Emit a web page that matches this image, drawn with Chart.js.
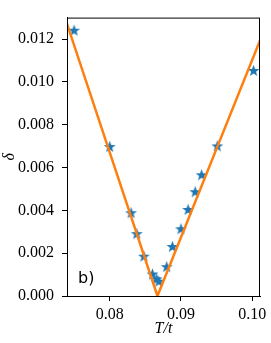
<!DOCTYPE html>
<html>
<head>
<meta charset="utf-8">
<script src="https://cdn.jsdelivr.net/npm/chart.js@4/dist/chart.umd.min.js"></script>
<style>
  html, body { margin: 0; padding: 0; background: #fff; }
  #wrap { width: 271px; height: 343px; }
</style>
</head>
<body>
<div id="wrap"><canvas id="chart" width="271" height="343"></canvas></div>
<script>
// measured points (T/t, delta)
const tValues = [0.0750, 0.0800, 0.0830, 0.0838, 0.0848, 0.0860, 0.0866, 0.0869,
                 0.0880, 0.0888, 0.0900, 0.0910, 0.0920, 0.0929, 0.0951, 0.1002];
const deltaValues = [0.01241, 0.00698, 0.00389, 0.00291, 0.00186, 0.00103, 0.00080, 0.00069,
                     0.00137, 0.00231, 0.00314, 0.00404, 0.00487, 0.00566, 0.00701, 0.01053];

// V-shaped fit
const fitT = [0.0740, 0.0867, 0.1011];
const fitDelta = [0.01271, 0.0, 0.01193];

const xTicks = [0.08, 0.09, 0.10];
const yTicks = [0.000, 0.002, 0.004, 0.006, 0.008, 0.010, 0.012];

// filled star like matplotlib '*'
function makeStar(r, color) {
    const c = document.createElement('canvas');
    const s = Math.ceil(r * 2 + 2);
    c.width = s; c.height = s;
    const g = c.getContext('2d');
    const cx = s / 2, cy = s / 2 + 0.5;
    g.beginPath();
    for (let i = 0; i < 10; i++) {
        const rad = i % 2 === 0 ? r : r * 0.42;
        const a = -Math.PI / 2 + i * Math.PI / 5;
        const px = cx + rad * Math.cos(a), py = cy + rad * Math.sin(a);
        if (i === 0) g.moveTo(px, py); else g.lineTo(px, py);
    }
    g.closePath();
    g.fillStyle = color;
    g.fill();
    return c;
}
const star = makeStar(6.2, '#1f77b4');

// box around plot + panel label
const frame = {
    id: 'frame',
    afterDraw(chart) {
        const { ctx, chartArea: a } = chart;
        ctx.save();
        ctx.strokeStyle = '#000';
        ctx.lineWidth = 1;
        ctx.strokeRect(a.left + 0.5, a.top + 0.5, a.right - a.left - 1, a.bottom - a.top);
        ctx.fillStyle = '#000';
        ctx.font = '16px "DejaVu Sans"';
        ctx.textBaseline = 'alphabetic';
        ctx.fillText('b)', 78, 283);
        ctx.restore();
    }
};

const tickFont = { family: '"Liberation Serif"', size: 16 };

new Chart(document.getElementById('chart'), {
    type: 'scatter',
    data: {
        datasets: [{
            type: 'line',
            data: fitT.map((t, i) => ({ x: t, y: fitDelta[i] })),
            borderColor: '#ff7f0e',
            borderWidth: 2.5,
            pointRadius: 0,
            fill: false,
            tension: 0,
            order: 0
        }, {
            data: tValues.map((t, i) => ({ x: t, y: deltaValues[i] })),
            pointStyle: star,
            pointRadius: 6,
            order: 1
        }]
    },
    options: {
        responsive: false,
        animation: false,
        layout: { padding: { top: 8, right: 11, left: 0, bottom: 0 } },
        plugins: { legend: { display: false }, tooltip: { enabled: false } },
        scales: {
            x: {
                type: 'linear',
                min: 0.0740,
                max: 0.1011,
                afterBuildTicks: s => { s.ticks = xTicks.map(v => ({ value: v })); },
                afterFit: s => { s.height = 47; },
                grid: { drawOnChartArea: false, drawTicks: true, tickLength: 5, tickColor: '#000' },
                border: { display: true, color: '#000' },
                ticks: { color: '#000', font: tickFont, padding: 4, maxRotation: 0,
                         callback: v => v.toFixed(2) },
                title: { display: true, text: 'T/t', color: '#000', padding: { top: 0, bottom: 5 },
                         font: { family: '"Liberation Serif"', size: 16, style: 'italic' } }
            },
            y: {
                min: 0,
                max: 0.013,
                afterBuildTicks: s => { s.ticks = yTicks.map(v => ({ value: v })); },
                afterFit: s => { s.width = 67; },
                grid: { drawOnChartArea: false, drawTicks: true, tickLength: 5, tickColor: '#000' },
                border: { display: true, color: '#000' },
                ticks: { color: '#000', font: tickFont, padding: 8,
                         callback: v => v.toFixed(3) },
                title: { display: true, text: 'δ', color: '#000', padding: { top: 0, bottom: 0 },
                         font: { family: '"Liberation Serif"', size: 16, style: 'italic' } }
            }
        }
    },
    plugins: [frame]
});
</script>
</body>
</html>
